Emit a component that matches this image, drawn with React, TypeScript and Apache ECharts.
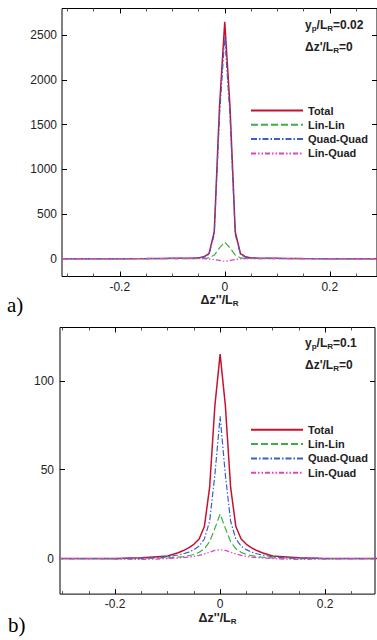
import React, { useEffect, useRef } from "react";
import * as echarts from "echarts";

// ---- data ----
const X = [-0.31, -0.25, -0.2, -0.15, -0.12, -0.1, -0.08, -0.07, -0.06, -0.05, -0.04, -0.03, -0.02, -0.01, 0, 0.01, 0.02, 0.03, 0.04, 0.05, 0.06, 0.07, 0.08, 0.1, 0.12, 0.15, 0.2, 0.25, 0.3];

const A_TOTAL = [0, 0, 0, 1, 2, 3, 4, 5, 6, 8, 20, 55, 300, 1700, 2650, 1700, 300, 55, 20, 8, 6, 5, 4, 3, 2, 1, 0, 0, 0];
const A_LINLIN = [0, 0, 0, 0, 0, 0.3, 0.5, 0.8, 1, 1.5, 3, 8, 40, 120, 185, 120, 40, 8, 3, 1.5, 1, 0.8, 0.5, 0.3, 0, 0, 0, 0, 0];
const A_QUADQUAD = [0, 0, 0, 1, 1.5, 2, 3, 4, 5, 7, 16, 48, 270, 1600, 2480, 1600, 270, 48, 16, 7, 5, 4, 3, 2, 1.5, 1, 0, 0, 0];
const A_LINQUAD = [0, 0, 0, 0, 0, 0, 0, 0, 0, 0, -1, -3, -10, -20, -30, -20, -10, -3, -1, 0, 0, 0, 0, 0, 0, 0, 0, 0, 0];

const B_TOTAL = [0, 0, 0.1, 0.4, 1, 1.4, 3.3, 4.5, 6, 8, 11, 18, 40, 86, 115, 86, 40, 18, 11, 8, 6, 4.5, 3.3, 1.4, 1, 0.4, 0.1, 0, 0];
const B_LINLIN = [0, 0, 0, 0, 0.2, 0.4, 0.8, 1.1, 1.6, 2.3, 3.5, 5.5, 9.5, 17, 25, 17, 9.5, 5.5, 3.5, 2.3, 1.6, 1.1, 0.8, 0.4, 0.2, 0, 0, 0, 0];
const B_QUADQUAD = [0, 0, 0, 0.2, 0.5, 1, 2, 2.7, 3.6, 5, 7, 11, 21, 47, 80, 47, 21, 11, 7, 5, 3.6, 2.7, 2, 1, 0.5, 0.2, 0, 0, 0];
const B_LINQUAD = [0, 0, -0.3, -0.5, -0.3, 0, 0.3, 0.5, 0.8, 1.2, 1.8, 2.6, 3.6, 4.6, 5, 4.6, 3.6, 2.6, 1.8, 1.2, 0.8, 0.5, 0.3, 0, -0.3, -0.5, -0.3, 0, 0];

const SERIES_NAMES = ["Total", "Lin-Lin", "Quad-Quad", "Lin-Quad"];

const X_MAJOR = [-0.2, 0, 0.2];
const X_MINOR = [-0.3, -0.25, -0.15, -0.1, -0.05, 0.05, 0.1, 0.15, 0.25];
const Y_A_TICKS = [0, 500, 1000, 1500, 2000, 2500];
const Y_B_TICKS = [0, 50, 100];

const FONT = '"Liberation Sans", Arial, Helvetica, sans-serif';

const STYLES = [
  { color: "#c8102e", width: 1.5, type: "solid" as any },
  { color: "#3cb043", width: 1.2, type: [7, 3] as any },
  { color: "#3a5fcd", width: 1.2, type: [6, 2, 1.5, 2] as any },
  { color: "#e342c8", width: 1.2, type: [5, 2, 1.5, 2, 1.5, 2] as any },
];

function pairs(ys: number[]) {
  return X.map((x, i) => [x, ys[i]]);
}

const plain = (v: number) => String(v);

function xAxes(grid: number, min: number, max: number) {
  const base = {
    type: "value",
    gridIndex: grid,
    min,
    max,
    axisLine: { show: false, onZero: false },
    splitLine: { show: false },
  };
  return [
    {
      ...base,
      position: "bottom",
      axisTick: { show: true, inside: true, length: 5, customValues: X_MAJOR, lineStyle: { color: "#000" } },
      axisLabel: { show: true, customValues: X_MAJOR, formatter: plain, margin: 4, fontSize: 12, color: "#222", fontFamily: FONT },
      name: "{m|\u0394z''/L}{s|R}",
      nameLocation: "middle",
      nameGap: 15,
      nameTextStyle: {
        rich: {
          m: { fontSize: 12.5, fontWeight: "bold", color: "#222", fontFamily: FONT },
          s: { fontSize: 8, fontWeight: "bold", color: "#222", fontFamily: FONT, padding: [7, 0, 0, 0] },
        },
      },
    },
    {
      ...base,
      position: "bottom",
      axisTick: { show: true, inside: true, length: 3, customValues: X_MINOR, lineStyle: { color: "#555" } },
      axisLabel: { show: false },
    },
    {
      ...base,
      position: "top",
      axisTick: { show: true, inside: true, length: 5, customValues: X_MAJOR, lineStyle: { color: "#000" } },
      axisLabel: { show: false },
    },
    {
      ...base,
      position: "top",
      axisTick: { show: true, inside: true, length: 3, customValues: X_MINOR, lineStyle: { color: "#555" } },
      axisLabel: { show: false },
    },
  ];
}

function yAxes(grid: number, min: number, max: number, ticks: number[], margin: number) {
  const base = {
    type: "value",
    gridIndex: grid,
    min,
    max,
    axisLine: { show: false, onZero: false },
    splitLine: { show: false },
  };
  return [
    {
      ...base,
      position: "left",
      axisTick: { show: true, inside: true, length: 5, customValues: ticks, lineStyle: { color: "#000" } },
      axisLabel: { show: true, customValues: ticks, formatter: plain, margin, fontSize: 12, color: "#222", fontFamily: FONT },
    },
    {
      ...base,
      position: "right",
      axisTick: { show: true, inside: true, length: 5, customValues: ticks, lineStyle: { color: "#000" } },
      axisLabel: { show: false },
    },
  ];
}

function seriesFor(xi: number, yi: number, arrays: number[][]) {
  return arrays.map((ys, k) => ({
    type: "line",
    name: SERIES_NAMES[k],
    xAxisIndex: xi,
    yAxisIndex: yi,
    data: pairs(ys),
    symbol: "none",
    showSymbol: false,
    lineStyle: STYLES[k],
    itemStyle: { color: STYLES[k].color },
    z: 2 + k,
  }));
}

function legendAt(top: number) {
  return {
    data: SERIES_NAMES,
    orient: "vertical",
    left: 250,
    top,
    padding: 0,
    itemWidth: 52,
    itemHeight: 10,
    itemGap: 3.3,
    selectedMode: false,
    itemStyle: { opacity: 0 },
    textStyle: { fontSize: 11, fontWeight: "bold", color: "#222", fontFamily: FONT, lineHeight: 10 },
  };
}

function annot(x: number, y: number, parts: [string, boolean][]) {
  const text = parts.map(([t, sub]) => (sub ? `{s|${t}}` : `{m|${t}}`)).join("");
  return {
    type: "text",
    x,
    y,
    style: {
      text,
      textVerticalAlign: "middle",
      verticalAlign: "middle",
      rich: {
        m: { fontSize: 12, fontWeight: "bold", fill: "#222", fontFamily: FONT },
        s: { fontSize: 8, fontWeight: "bold", fill: "#222", fontFamily: FONT, padding: [7, 0, 0, 0] },
      },
    },
  };
}

export default function App() {
  const ref = useRef<HTMLDivElement>(null);
  useEffect(() => {
    if (!ref.current) return;
    const chart = echarts.init(ref.current, null, { renderer: "svg" });
    const option: any = {
      animation: false,
      backgroundColor: "#fff",
      grid: [
        { left: 62, top: 8.5, width: 315, height: 268, show: true, borderColor: "#000", borderWidth: 1, backgroundColor: "transparent" },
        { left: 60, top: 327.5, width: 315, height: 266.6, show: true, borderColor: "#000", borderWidth: 1, backgroundColor: "transparent" },
      ],
      xAxis: [...xAxes(0, -0.31, 0.29), ...xAxes(1, -0.305, 0.295)],
      yAxis: [...yAxes(0, -200, 2800, Y_A_TICKS, 5), ...yAxes(1, -20, 130, Y_B_TICKS, 6)],
      legend: [legendAt(105), legendAt(424.3)],
      series: [
        ...seriesFor(0, 0, [A_TOTAL, A_LINLIN, A_QUADQUAD, A_LINQUAD]),
        ...seriesFor(4, 2, [B_TOTAL, B_LINLIN, B_QUADQUAD, B_LINQUAD]),
      ],
      graphic: [
        annot(305, 25, [["y", false], ["p", true], ["/L", false], ["R", true], ["=0.02", false]]),
        annot(305, 47, [["\u0394z'/L", false], ["R", true], ["=0", false]]),
        annot(305, 343, [["y", false], ["p", true], ["/L", false], ["R", true], ["=0.1", false]]),
        annot(305, 365, [["\u0394z'/L", false], ["R", true], ["=0", false]]),
        {
          type: "text",
          x: 7,
          y: 305,
          style: { text: "a)", font: '21px "Liberation Serif", "Times New Roman", serif', fill: "#000", verticalAlign: "middle", textVerticalAlign: "middle" },
        },
        {
          type: "text",
          x: 8,
          y: 625,
          style: { text: "b)", font: '21px "Liberation Serif", "Times New Roman", serif', fill: "#000", verticalAlign: "middle", textVerticalAlign: "middle" },
        },
      ],
    };
    chart.setOption(option);
    return () => chart.dispose();
  }, []);
  return <div ref={ref} style={{ position: "absolute", left: 0, top: 0, width: 377, height: 640 }} />;
}
